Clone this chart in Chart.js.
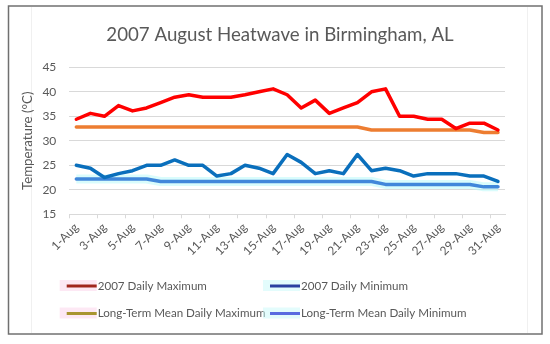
<!DOCTYPE html>
<html>
<head>
<meta charset="utf-8">
<script src="https://cdn.jsdelivr.net/npm/chart.js@4"></script>
<style>
html, body { margin: 0; padding: 0; background: #fff; }
</style>
</head>
<body>
<canvas id="chart" width="550" height="344"></canvas>
<script>
const days = ['1-Aug', '2-Aug', '3-Aug', '4-Aug', '5-Aug', '6-Aug', '7-Aug', '8-Aug', '9-Aug', '10-Aug',
    '11-Aug', '12-Aug', '13-Aug', '14-Aug', '15-Aug', '16-Aug', '17-Aug', '18-Aug', '19-Aug', '20-Aug',
    '21-Aug', '22-Aug', '23-Aug', '24-Aug', '25-Aug', '26-Aug', '27-Aug', '28-Aug', '29-Aug', '30-Aug', '31-Aug'];
const dailyMax = [34.4, 35.6, 35.0, 37.2, 36.1, 36.7, 37.8, 38.9, 39.4, 38.9, 38.9, 38.9, 39.4, 40.0, 40.6, 39.4,
    36.7, 38.3, 35.6, 36.7, 37.8, 40.0, 40.6, 35.0, 35.0, 34.4, 34.4, 32.5, 33.6, 33.6, 32.2];
const dailyMin = [25.0, 24.4, 22.5, 23.3, 23.9, 25.0, 25.0, 26.1, 25.0, 25.0, 22.8, 23.3, 25.0, 24.4, 23.3, 27.2,
    25.6, 23.3, 23.9, 23.3, 27.2, 23.9, 24.4, 23.9, 22.8, 23.3, 23.3, 23.3, 22.8, 22.8, 21.7];
const meanMax = [32.8, 32.8, 32.8, 32.8, 32.8, 32.8, 32.8, 32.8, 32.8, 32.8, 32.8, 32.8, 32.8, 32.8, 32.8, 32.8,
    32.8, 32.8, 32.8, 32.8, 32.8, 32.2, 32.2, 32.2, 32.2, 32.2, 32.2, 32.2, 32.2, 31.7, 31.7];
const meanMin = [22.2, 22.2, 22.2, 22.2, 22.2, 22.2, 21.7, 21.7, 21.7, 21.7, 21.7, 21.7, 21.7, 21.7, 21.7, 21.7,
    21.7, 21.7, 21.7, 21.7, 21.7, 21.7, 21.1, 21.1, 21.1, 21.1, 21.1, 21.1, 21.1, 20.6, 20.6];
const seriesNames = ['2007 Daily Maximum', '2007 Daily Minimum', 'Long-Term Mean Daily Maximum', 'Long-Term Mean Daily Minimum'];

const $textC = '#595959';
const $gridC = '#d9d9d9';
const $font = 'Lato';

// frame, title and the 2x2 legend are drawn by hand
const framePlugin = {
    id: 'frame',
    beforeDraw(chart) {
        const ctx = chart.ctx;
        ctx.save();
        ctx.fillStyle = '#fff';
        ctx.fillRect(0, 0, chart.width, chart.height);
        ctx.strokeStyle = '#f0f0f0';
        ctx.lineWidth = 1;
        ctx.beginPath();
        ctx.moveTo(31.5, 7); ctx.lineTo(31.5, 333);
        ctx.moveTo(527.5, 7); ctx.lineTo(527.5, 333);
        ctx.stroke();
        ctx.strokeStyle = '#707070';
        ctx.lineWidth = 1.5;
        ctx.strokeRect(8.5, 6, 533.5, 328);
        ctx.fillStyle = $textC;
        ctx.font = '18.7px ' + $font;
        ctx.textAlign = 'center';
        ctx.textBaseline = 'middle';
        ctx.fillText('2007 August Heatwave in Birmingham, AL', 280, 35);
        ctx.restore();
    },
    afterDraw(chart) {
        const ctx = chart.ctx;
        const cols = [66.7, 270];
        const rows = [286, 313.5];
        const glow = ['rgba(250,205,230,0.45)', 'rgba(200,250,250,0.5)'];
        ctx.save();
        ctx.font = '11.6px ' + $font;
        ctx.textBaseline = 'middle';
        ctx.textAlign = 'left';
        chart.data.datasets.filter(d => !d.hideInLegend).forEach((d, i) => {
            const x = cols[i % 2], y = rows[Math.floor(i / 2)];
            ctx.fillStyle = glow[i % 2];
            ctx.fillRect(x - 7, y - 6, 37, 11);
            ctx.strokeStyle = d.legendColor;
            ctx.lineWidth = 3;
            ctx.beginPath();
            ctx.moveTo(x, y); ctx.lineTo(x + 30, y);
            ctx.stroke();
            ctx.fillStyle = $textC;
            ctx.fillText(d.label, x + 31, y);
        });
        ctx.restore();
    }
};

function line(label, data, color, legendColor) {
    return {
        label: label,
        data: data,
        borderColor: color,
        backgroundColor: color,
        legendColor: legendColor,
        borderWidth: 3.5,
        pointRadius: 0,
        tension: 0,
        borderJoinStyle: 'round',
        borderCapStyle: 'round',
    };
}

const glowLine = line('', meanMin, 'rgba(185,250,250,0.55)', null);
glowLine.borderWidth = 9;
glowLine.borderCapStyle = 'butt';
glowLine.hideInLegend = true;

new Chart(document.getElementById('chart'), {
    type: 'line',
    data: {
        labels: days,
        datasets: [
            line(seriesNames[0], dailyMax, '#ff0000', '#a0281e'),
            line(seriesNames[1], dailyMin, '#0a6fbc', '#2b40a0'),
            line(seriesNames[2], meanMax, '#ed7d31', '#a89530'),
            line(seriesNames[3], meanMin, '#4187da', '#5a6be0'),
            glowLine,
        ]
    },
    options: {
        responsive: false,
        devicePixelRatio: 1,
        animation: false,
        layout: { padding: { left: 16, right: 45, top: 67.3, bottom: 0 } },
        plugins: {
            legend: { display: false },
            title: { display: false },
            tooltip: { enabled: false },
        },
        scales: {
            x: {
                offset: true,
                grid: {
                    drawOnChartArea: false,
                    offset: true,
                    tickLength: 4,
                    tickColor: c => c.index % 2 === 0 ? $gridC : 'transparent',
                },
                border: { color: $gridC },
                ticks: {
                    autoSkip: false,
                    minRotation: 45,
                    maxRotation: 45,
                    padding: 2,
                    color: $textC,
                    font: { family: $font, size: 12 },
                    callback: function(v, i) {
                        return i % 2 === 0 ? this.getLabelForValue(v) : '';
                    }
                },
                afterFit: s => { s.height = 129.7; }
            },
            y: {
                min: 15,
                max: 45,
                ticks: {
                    stepSize: 5,
                    padding: 13,
                    color: $textC,
                    font: { family: $font, size: 12 },
                },
                grid: { color: $gridC, drawTicks: false },
                border: { display: false },
                title: {
                    display: true,
                    text: 'Temperature (°C)',
                    color: $textC,
                    font: { family: $font, size: 13.3 },
                    padding: { top: 4, bottom: 4 },
                },
                afterFit: s => { s.width = 53.3; }
            }
        }
    },
    plugins: [framePlugin]
});
</script>
</body>
</html>
